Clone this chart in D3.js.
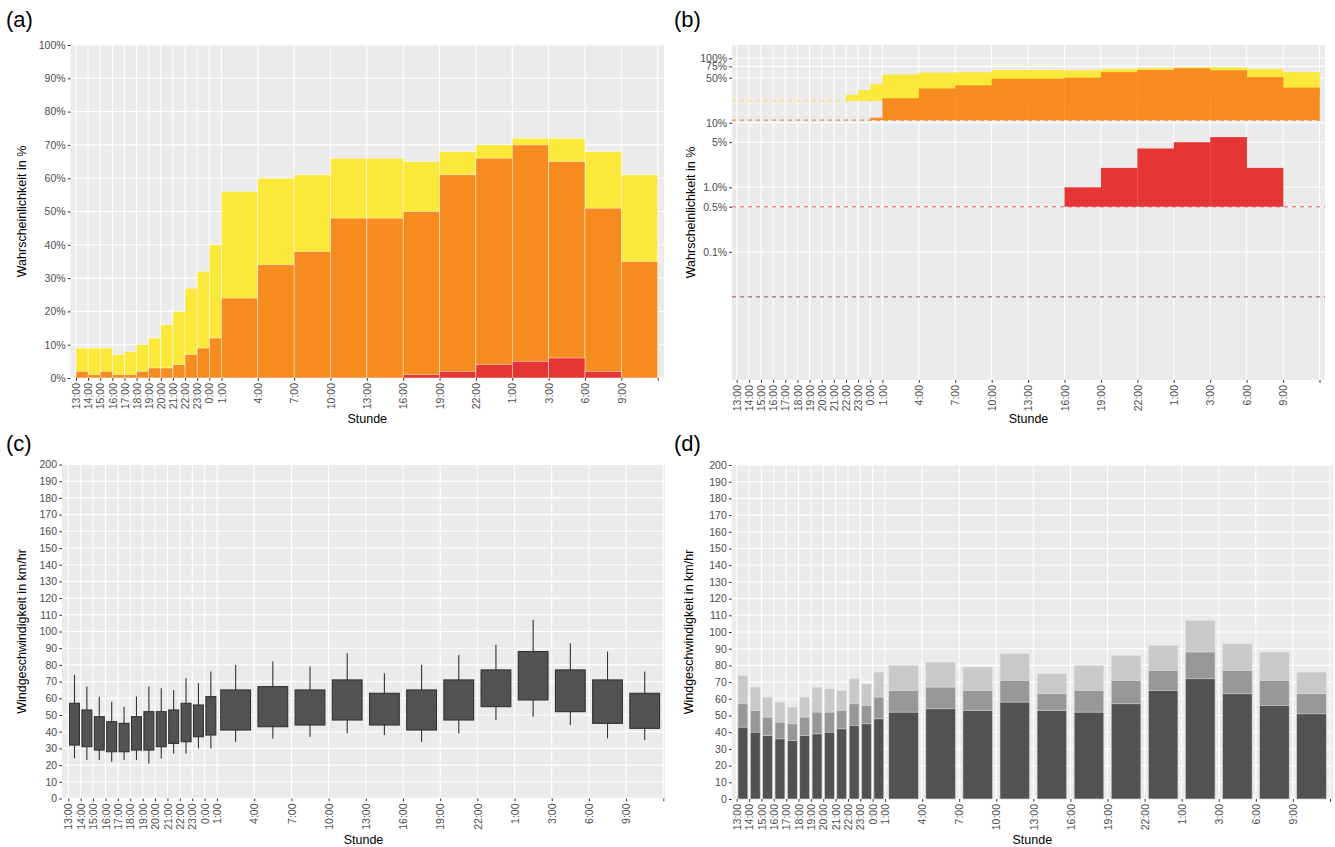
<!DOCTYPE html>
<html>
<head>
<meta charset="utf-8">
<script src="https://cdn.jsdelivr.net/npm/d3@7"></script>
<style>
    body { margin: 0; background: #ffffff; }
    svg text { font-family: "Liberation Sans", Arial, Helvetica, sans-serif; }
</style>
</head>
<body>
<svg id="chart" width="1335" height="847"></svg>
<script>

// x axis: hours after 13:00 of day one
let tickHours = [0, 1, 2, 3, 4, 5, 6, 7, 8, 9, 10, 11, 12, 15, 18, 21, 24, 27, 30, 33, 36, 39, 42, 45, 48]
let tickLabels = ["13:00", "14:00", "15:00", "16:00", "17:00", "18:00", "19:00", "20:00", "21:00", "22:00",
    "23:00", "0:00", "1:00", "4:00", "7:00", "10:00", "13:00", "16:00", "19:00", "22:00", "1:00", "3:00",
    "6:00", "9:00", ""]

// forecast bins (hourly first, then 3-hourly)
let binStart = [0, 1, 2, 3, 4, 5, 6, 7, 8, 9, 10, 11, 12, 15, 18, 21, 24, 27, 30, 33, 36, 39, 42, 45]
let binEnd = [1, 2, 3, 4, 5, 6, 7, 8, 9, 10, 11, 12, 15, 18, 21, 24, 27, 30, 33, 36, 39, 42, 45, 48]

// probability (%) of exceeding the three warning levels
let probYellow = [9, 9, 9, 7, 8, 10, 12, 16, 20, 27, 32, 40, 56, 60, 61, 66, 66, 65, 68, 70, 72, 72, 68, 61]
let probOrange = [2, 1, 2, 1, 1, 2, 3, 3, 4, 7, 9, 12, 24, 34, 38, 48, 48, 50, 61, 66, 70, 65, 51, 35]
let probRed = [0, 0, 0, 0, 0, 0, 0, 0, 0, 0, 0, 0, 0, 0, 0, 0, 0, 1, 2, 4, 5, 6, 2, 0]

// climatological thresholds for panel (b), as fractions
let threshYellow = 0.22
let threshOrange = 0.11
let threshRed = 0.005
let threshPurple = 0.0002

let logTicks = [1, 0.75, 0.5, 0.1, 0.05, 0.01, 0.005, 0.001]
let logTickLabels = ["100%", "75%", "50%", "10%", "5%", "1.0%", "0.5%", "0.1%"]

// wind speed statistics km/hr
let windMin = [24, 23, 23, 22, 23, 23, 21, 24, 27, 27, 30, 30, 34, 36, 37, 39, 38, 34, 39, 47, 49, 44, 36, 35]
let windQ1 = [32, 31, 29, 28, 28, 29, 29, 31, 33, 34, 37, 38, 41, 43, 44, 47, 44, 41, 47, 55, 59, 52, 45, 42]
let windMedian = [43, 40, 38, 36, 35, 38, 39, 40, 42, 44, 45, 48, 52, 54, 53, 58, 53, 52, 57, 65, 72, 63, 56, 51]
let windQ3 = [57, 53, 49, 46, 45, 49, 52, 52, 53, 57, 56, 61, 65, 67, 65, 71, 63, 65, 71, 77, 88, 77, 71, 63]
let windMax = [74, 67, 61, 58, 55, 61, 67, 66, 65, 72, 69, 76, 80, 82, 79, 87, 75, 80, 86, 92, 107, 93, 88, 76]

let windTicks = d3.range(0, 201, 10)
let probTicks = d3.range(0, 11).map(d => d / 10)

let colYellow = "#FAE93A"
let colOrange = "#F68B20"
let colRed = "#E53535"

let svg = d3.select("#chart")

function makePanel(p) {
    let g = svg.append("g")
    let x = d3.scaleLinear().domain([0, 48]).range([p.x0, p.x48])

    g.append("rect")
        .attr("x", p.left)
        .attr("y", p.top)
        .attr("width", p.right - p.left)
        .attr("height", p.bottom - p.top)
        .attr("fill", "#EBEBEB")

    g.append("g").selectAll("line")
        .data(p.yTicks)
        .enter()
        .append("line")
        .attr("x1", p.left)
        .attr("x2", p.right)
        .attr("y1", d => p.y(d))
        .attr("y2", d => p.y(d))
        .attr("stroke", "#ffffff")
        .attr("stroke-width", 1.07)

    g.append("g").selectAll("line")
        .data(tickHours)
        .enter()
        .append("line")
        .attr("x1", d => x(d))
        .attr("x2", d => x(d))
        .attr("y1", p.top)
        .attr("y2", p.bottom)
        .attr("stroke", "#ffffff")
        .attr("stroke-width", 1.07)

    let marks = g.append("g")

    // axes drawn after the marks
    p.drawAxes = function () {
        let yAxis = d3.axisLeft(p.y)
            .tickValues(p.yTicks)
            .tickFormat((d, i) => p.yLabels[i])
            .tickSize(2.75)
            .tickPadding(2.2)

        let ya = g.append("g")
            .attr("transform", "translate(" + p.left + ",0)")
            .call(yAxis)
        ya.select(".domain").remove()
        ya.selectAll("line").attr("stroke", "#333333")
        ya.selectAll("text")
            .attr("fill", "#4D4D4D")
            .attr("font-size", "10.5px")
            .attr("font-family", null)

        let xAxis = d3.axisBottom(x)
            .tickValues(tickHours)
            .tickFormat((d, i) => tickLabels[i])
            .tickSize(2.75)

        let xa = g.append("g")
            .attr("transform", "translate(0," + p.bottom + ")")
            .call(xAxis)
        xa.select(".domain").remove()
        xa.selectAll("line").attr("stroke", "#333333")
        xa.selectAll("text")
            .attr("fill", "#4D4D4D")
            .attr("font-size", "10.5px")
            .attr("font-family", null)
            .attr("transform", "rotate(-90)")
            .attr("text-anchor", "end")
            .attr("x", -5)
            .attr("y", 0)
            .attr("dy", "0.35em")

        g.append("text")
            .attr("x", (p.left + p.right) / 2)
            .attr("y", p.xTitleY)
            .attr("text-anchor", "middle")
            .attr("font-size", "12.5px")
            .attr("fill", "#000000")
            .text("Stunde")

        g.append("text")
            .attr("transform", "translate(" + p.yTitleX + "," + (p.top + p.bottom) / 2 + ") rotate(-90)")
            .attr("text-anchor", "middle")
            .attr("dy", "0.35em")
            .attr("font-size", "12.5px")
            .attr("fill", "#000000")
            .text(p.yTitle)

        svg.append("text")
            .attr("x", p.tagX)
            .attr("y", p.tagY)
            .attr("font-size", "22px")
            .attr("fill", "#000000")
            .text(p.tag)
    }

    return { g: marks, x: x, p: p }
}

let bins = binStart.map((s, i) => ({ s: s, e: binEnd[i], i: i }))

// ---------- (a) ----------
let pa = makePanel({
    left: 70.5, right: 664, top: 45, bottom: 378, x0: 76, x48: 657.7,
    y: d3.scaleLinear().domain([0, 1]).range([378, 45]),
    yTicks: probTicks, yLabels: probTicks.map(d3.format(".0%")),
    xTitleY: 423, yTitleX: 22, yTitle: "Wahrscheinlichkeit in %",
    tag: "(a)", tagX: 6, tagY: 27
})

let layersA = [[probYellow, colYellow], [probOrange, colOrange], [probRed, colRed]]
layersA.forEach(function (layer) {
    pa.g.append("g").selectAll("rect")
        .data(bins.filter(b => layer[0][b.i] > 0))
        .enter()
        .append("rect")
        .attr("x", b => pa.x(b.s))
        .attr("width", b => pa.x(b.e) - pa.x(b.s))
        .attr("y", b => pa.p.y(layer[0][b.i] / 100))
        .attr("height", b => pa.p.y(0) - pa.p.y(layer[0][b.i] / 100))
        .attr("fill", layer[1])
        .attr("stroke", "#ffffff")
        .attr("stroke-opacity", 0.75)
        .attr("stroke-width", 0.6)
})
pa.p.drawAxes()

// ---------- (b) ----------
let pb = makePanel({
    left: 732, right: 1325, top: 45, bottom: 380, x0: 736.7, x48: 1319.5,
    y: d3.scaleLog().domain([1.03e-5, 1.607]).range([380, 45]),
    yTicks: logTicks, yLabels: logTickLabels,
    xTitleY: 423, yTitleX: 691, yTitle: "Wahrscheinlichkeit in %",
    tag: "(b)", tagX: 674, tagY: 27
})

let dashes = [[threshYellow, "#F2E38C", 48.1], [threshOrange, "#F4903A", 48.1], [threshRed, "#EE8A8A", null], [threshPurple, "#A8677F", null]]
pb.g.append("g").selectAll("line")
    .data(dashes)
    .enter()
    .append("line")
    .attr("x1", pb.p.left)
    .attr("x2", d => d[2] === null ? pb.p.right : pb.x(d[2]))
    .attr("y1", d => pb.p.y(d[0]))
    .attr("y2", d => pb.p.y(d[0]))
    .attr("stroke", d => d[1])
    .attr("stroke-width", 1.4)
    .attr("stroke-dasharray", "4,4")

let layersB = [[probYellow, threshYellow, colYellow], [probOrange, threshOrange, colOrange], [probRed, threshRed, colRed]]
layersB.forEach(function (layer) {
    pb.g.append("g").selectAll("rect")
        .data(bins.filter(b => layer[0][b.i] / 100 > layer[1]))
        .enter()
        .append("rect")
        .attr("x", b => pb.x(b.s))
        .attr("width", b => pb.x(b.e) - pb.x(b.s) + 0.3)
        .attr("y", b => pb.p.y(layer[0][b.i] / 100))
        .attr("height", b => pb.p.y(layer[1]) - pb.p.y(layer[0][b.i] / 100))
        .attr("fill", layer[2])
})
pb.p.drawAxes()

// ---------- (c) ----------
let pc = makePanel({
    left: 62, right: 665, top: 464.5, bottom: 798.5, x0: 68.3, x48: 663.3,
    y: d3.scaleLinear().domain([0, 200]).range([798.5, 464.5]),
    yTicks: windTicks, yLabels: windTicks.map(String),
    xTitleY: 844, yTitleX: 22, yTitle: "Windgeschwindigkeit in km/hr",
    tag: "(c)", tagX: 6, tagY: 451
})

let boxes = pc.g.append("g").selectAll("g")
    .data(bins)
    .enter()
    .append("g")

boxes.append("line")
    .attr("x1", b => pc.x((b.s + b.e) / 2))
    .attr("x2", b => pc.x((b.s + b.e) / 2))
    .attr("y1", b => pc.p.y(windMin[b.i]))
    .attr("y2", b => pc.p.y(windMax[b.i]))
    .attr("stroke", "#333333")
    .attr("stroke-width", 1.1)

boxes.append("rect")
    .attr("x", b => pc.x(b.s + (b.e - b.s) * 0.1))
    .attr("width", b => pc.x(b.e) - pc.x(b.s) - (pc.x(b.e) - pc.x(b.s)) * 0.2)
    .attr("y", b => pc.p.y(windQ3[b.i]))
    .attr("height", b => pc.p.y(windQ1[b.i]) - pc.p.y(windQ3[b.i]))
    .attr("fill", "#525252")
    .attr("stroke", "#333333")
    .attr("stroke-width", 1.1)
pc.p.drawAxes()

// ---------- (d) ----------
let pd = makePanel({
    left: 731.7, right: 1333, top: 465, bottom: 799, x0: 736.7, x48: 1330,
    y: d3.scaleLinear().domain([0, 200]).range([799, 465]),
    yTicks: windTicks, yLabels: windTicks.map(String),
    xTitleY: 844, yTitleX: 689, yTitle: "Windgeschwindigkeit in km/hr",
    tag: "(d)", tagX: 674, tagY: 451
})

let layersD = [[windMax, "#C9C9C9"], [windQ3, "#979797"], [windMedian, "#525252"]]
layersD.forEach(function (layer) {
    pd.g.append("g").selectAll("rect")
        .data(bins)
        .enter()
        .append("rect")
        .attr("x", b => pd.x(b.s + (b.e - b.s) * 0.1))
        .attr("width", b => (pd.x(b.e) - pd.x(b.s)) * 0.8)
        .attr("y", b => pd.p.y(layer[0][b.i]))
        .attr("height", b => pd.p.y(0) - pd.p.y(layer[0][b.i]))
        .attr("fill", layer[1])
        .attr("stroke", "#E4E4E4")
        .attr("stroke-width", 0.6)
})
pd.p.drawAxes()

</script>
</body>
</html>
